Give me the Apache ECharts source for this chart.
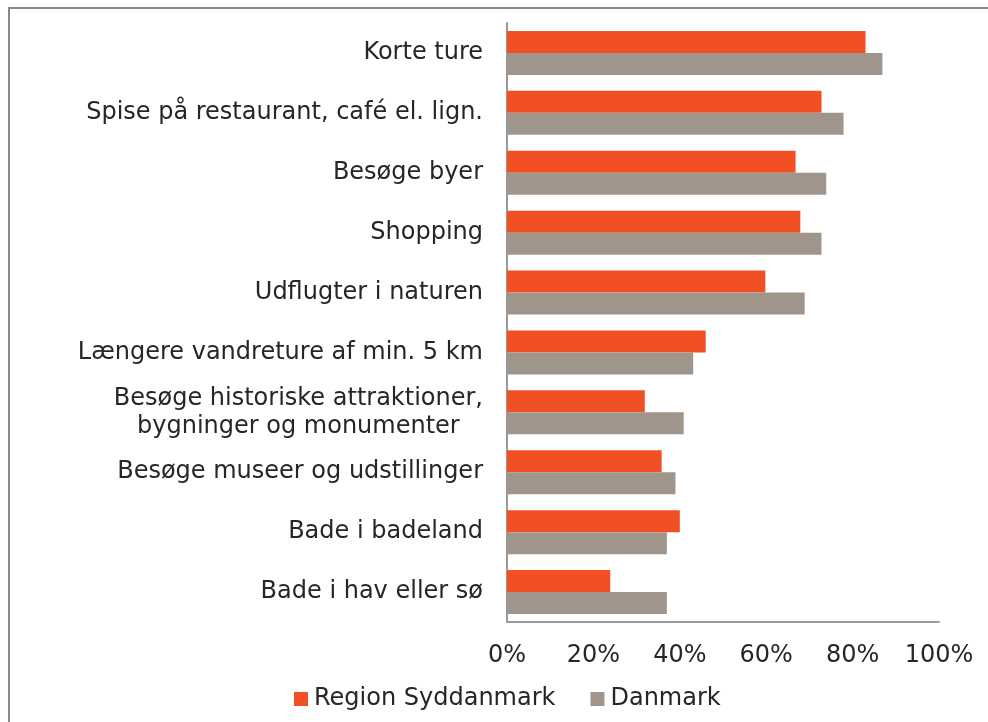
<!DOCTYPE html>
<html>
<head>
<meta charset="utf-8">
<script src="https://cdn.jsdelivr.net/npm/echarts@6/dist/echarts.min.js"></script>
<style>
  html, body { margin: 0; padding: 0; background: #fff; }
  #chart { width: 988px; height: 722px; }
</style>
</head>
<body>
<div id="chart"></div>
<script>
// categories top to bottom
var categories = [
  'Korte ture',
  'Spise på restaurant, café el. lign.',
  'Besøge byer',
  'Shopping',
  'Udflugter i naturen',
  'Længere vandreture af min. 5 km',
  'Besøge historiske attraktioner,\nbygninger og monumenter',
  'Besøge museer og udstillinger',
  'Bade i badeland',
  'Bade i hav eller sø'
];
var syddanmark = [83, 72.8, 66.8, 67.9, 59.8, 46, 31.9, 35.8, 40, 23.9];
var danmark = [86.9, 77.9, 73.9, 72.8, 68.9, 43.1, 40.9, 39, 37, 37];
var seriesNames = ['Region Syddanmark', 'Danmark'];
var colors = ['#F05023', '#A0958A'];

var font = '"DejaVu Sans"';
var fontSize = 24;

// width of the longest line, so wrapped labels are centred as a block
var ctx = document.createElement('canvas').getContext('2d');
ctx.font = fontSize + 'px ' + font;
function blockWidth(s) {
  return Math.max.apply(null, s.split('\n').map(function (l) { return ctx.measureText(l).width; }));
}

var chart = echarts.init(document.getElementById('chart'), null, { renderer: 'canvas' });

chart.setOption({
  animation: false,
  color: colors,
  graphic: [{
    type: 'rect',
    shape: { x: 9, y: 8, width: 1000, height: 800 },
    style: { fill: 'none', stroke: '#8a8a8a', lineWidth: 2 },
    silent: true
  }],
  grid: { left: 507, right: 49, top: 23, bottom: 100 },
  legend: {
    left: 289,
    top: 682,
    itemWidth: 14,
    itemHeight: 14,
    itemGap: 35,
    icon: 'rect',
    textStyle: { fontFamily: font, fontSize: fontSize, color: '#262626', padding: [0, 0, 0, 1] },
    data: seriesNames
  },
  xAxis: {
    type: 'value',
    min: 0,
    max: 100,
    interval: 20,
    axisLine: { show: true, lineStyle: { color: '#999', width: 2 } },
    axisTick: { show: false },
    splitLine: { show: false },
    axisLabel: {
      formatter: '{value}%',
      fontFamily: font,
      fontSize: fontSize,
      color: '#262626',
      margin: 22
    }
  },
  yAxis: {
    type: 'category',
    inverse: true,
    data: categories,
    axisLine: { show: true, lineStyle: { color: '#999', width: 2 } },
    axisTick: { show: false },
    axisLabel: {
      fontFamily: font,
      fontSize: fontSize,
      color: '#262626',
      margin: 24,
      lineHeight: 28,
      align: 'right',
      formatter: function (v) {
        if (v.indexOf('\n') < 0) return v;
        return v.split('\n').map(function (l) { return '{c|' + l + '}'; }).join('\n');
      },
      rich: {
        c: {
          fontFamily: font,
          fontSize: fontSize,
          color: '#262626',
          lineHeight: 28,
          width: blockWidth(categories[6]),
          align: 'center'
        }
      }
    }
  },
  series: [
    {
      name: seriesNames[0],
      type: 'bar',
      data: syddanmark,
      barWidth: 22,
      barGap: '0%',
      barCategoryGap: '26%'
    },
    {
      name: seriesNames[1],
      type: 'bar',
      data: danmark,
      barWidth: 22,
      barGap: '0%'
    }
  ]
});
</script>
</body>
</html>
